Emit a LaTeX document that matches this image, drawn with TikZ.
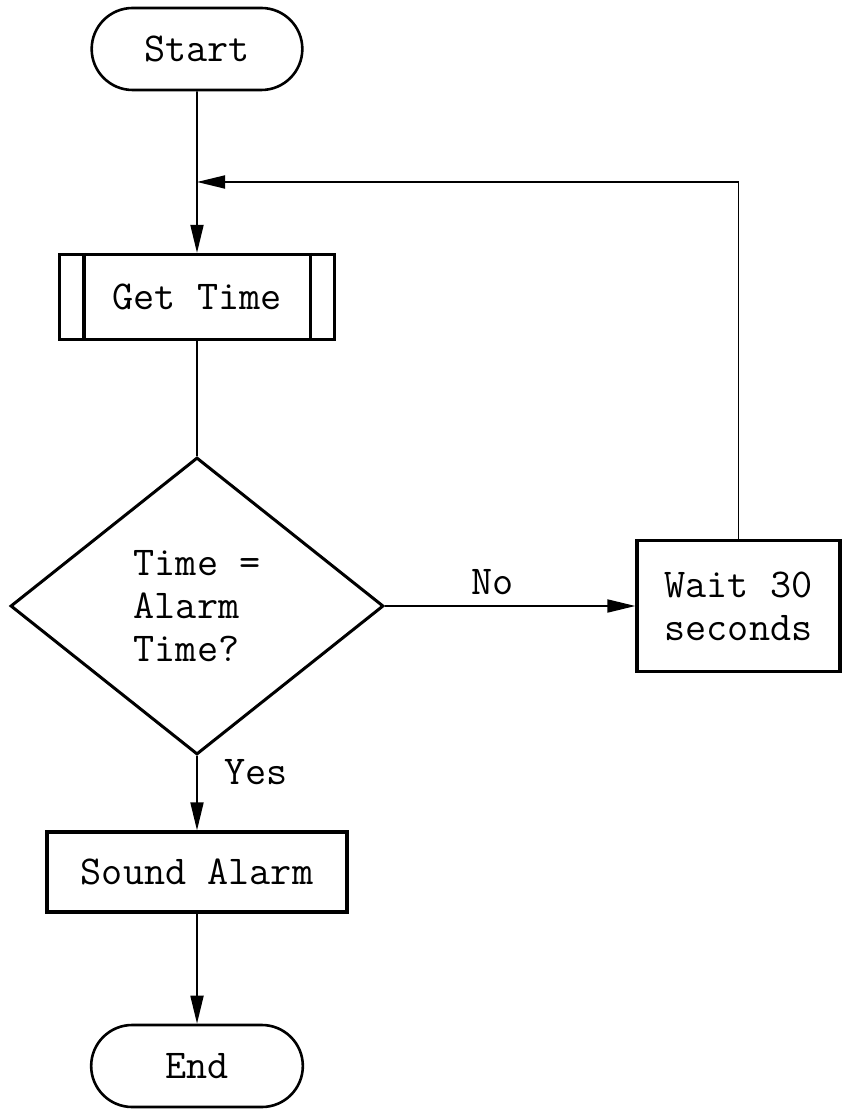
\documentclass[tikz,border=0pt]{standalone}
\usetikzlibrary{arrows.meta,shapes.geometric,shapes.misc}

\begin{document}
\begin{tikzpicture}[
        x=0.5pt, y=-0.5pt,
        >={Triangle[length=14pt, width=6.5pt]}, line width=0.9pt,
        every node/.style={font=\ttfamily\fontsize{20.5pt}{21.5pt}\selectfont},
        terminal/.style={draw, rounded rectangle, line width=1.3pt,
                minimum width=112pt, minimum height=41pt},
        box/.style={draw, line width=1.6pt, align=center, inner sep=0pt},
        decision/.style={draw, diamond, line width=1.5pt, align=left,
                inner sep=0pt, minimum width=186.5pt, minimum height=148.5pt}
    ]
    \useasboundingbox (0,0) rectangle (842,1111);

    \node[terminal] (start) at (197,49) {Start};
    \node[box, minimum width=137.5pt, minimum height=42.5pt] (gettime) at (197,297) {Get Time};
    \node[decision] (check) at (197,606) {Time =\\Alarm\\Time?};
    \node[box, minimum width=101.5pt, minimum height=65.5pt] (wait) at (738.5,606) {Wait 30\\seconds};
    \node[box, minimum width=150pt, minimum height=40pt] (alarm) at (197,872) {Sound Alarm};
    \node[terminal, minimum width=112.5pt] (stop) at (197,1066) {End};
    \coordinate (join) at (197,182);

    % predefined process bars
    \draw[line width=1.6pt] ([xshift=13pt]gettime.north west) -- ([xshift=13pt]gettime.south west);
    \draw[line width=1.6pt] ([xshift=-13pt]gettime.north east) -- ([xshift=-13pt]gettime.south east);

    \draw (start) -- (join);
    \draw[->] (join) -- (gettime);
    \draw (gettime) -- (check);
    \draw[->] (check) -- node[above=2pt, pos=0.43] {No} (wait);
    \draw[->] (wait.north) |- (join);
    \draw[->] (check) -- node[right=10pt, pos=0.22] {Yes} (alarm);
    \draw[->] (alarm) -- (stop);
\end{tikzpicture}
\end{document}
